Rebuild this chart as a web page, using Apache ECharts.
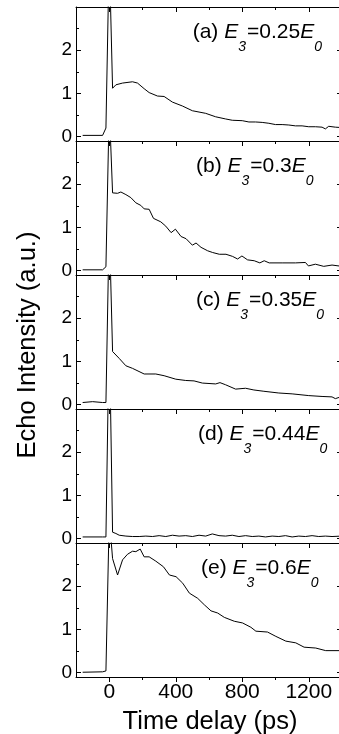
<!DOCTYPE html>
<html>
<head>
<meta charset="utf-8">
<script src="https://cdn.jsdelivr.net/npm/echarts@6/dist/echarts.min.js"></script>
<style>
html,body{margin:0;padding:0;background:#fff;}
#chart{width:339px;height:734px;}
</style>
</head>
<body>
<div id="chart"></div>
<script>
// ---- data ----
const panelLetters = ['(a)', '(b)', '(c)', '(d)', '(e)'];
const e3Values = ['0.25', '0.3', '0.35', '0.44', '0.6'];

const xTickMajor = [0, 400, 800, 1200];
const xTickMinor = [200, 600, 1000];
const yTickMajor = [0, 1, 2];
const yTickMinor = [0.5, 1.5, 2.5];

const tA = [-160, -40, -20, 0, 20, 40, 80, 140, 170, 210, 240, 290, 330, 380, 440, 500, 540, 580, 640, 700, 740, 800, 840, 880, 920, 960, 1000, 1040, 1080, 1120, 1160, 1200, 1240, 1280, 1300, 1320, 1360, 1400];
const vA = [0.03, 0.03, 0.2, 4.25, 1.12, 1.2, 1.24, 1.27, 1.24, 1.11, 1.02, 0.94, 0.93, 0.80, 0.71, 0.60, 0.57, 0.54, 0.46, 0.41, 0.38, 0.37, 0.34, 0.34, 0.33, 0.31, 0.28, 0.28, 0.27, 0.25, 0.25, 0.23, 0.23, 0.22, 0.18, 0.24, 0.22, 0.21];

const tB = [-160, -40, -20, 0, 20, 50, 70, 100, 130, 160, 190, 210, 240, 266, 310, 340, 372, 398, 432, 462, 500, 522, 552, 592, 622, 662, 702, 742, 772, 798, 832, 872, 906, 932, 962, 1040, 1120, 1180, 1198, 1240, 1290, 1340, 1400];
const vB = [0.02, 0.02, 0.09, 3.8, 1.80, 1.79, 1.82, 1.76, 1.69, 1.57, 1.51, 1.43, 1.42, 1.21, 1.13, 1.03, 0.88, 0.96, 0.79, 0.74, 0.59, 0.64, 0.54, 0.46, 0.42, 0.38, 0.38, 0.33, 0.27, 0.34, 0.25, 0.23, 0.18, 0.23, 0.18, 0.18, 0.18, 0.19, 0.11, 0.15, 0.10, 0.13, 0.10];

const tC = [-160, -100, -40, -20, 0, 20, 60, 100, 140, 210, 280, 330, 400, 460, 510, 560, 640, 666, 700, 760, 820, 870, 930, 1020, 1100, 1200, 1280, 1340, 1360, 1400];
const vC = [0.05, 0.07, 0.05, 0.05, 4.2, 1.23, 1.07, 0.90, 0.84, 0.71, 0.71, 0.67, 0.59, 0.56, 0.55, 0.50, 0.48, 0.51, 0.46, 0.36, 0.38, 0.34, 0.31, 0.27, 0.25, 0.21, 0.19, 0.18, 0.14, 0.19];

const tD = [-160, -40, -20, 0, 20, 40, 60, 100, 140, 180, 220, 260, 300, 340, 380, 420, 460, 500, 540, 580, 620, 660, 700, 740, 780, 820, 860, 900, 940, 980, 1020, 1060, 1100, 1140, 1180, 1220, 1260, 1300, 1340, 1400];
const vD = [0.04, 0.04, 0.04, 4.9, 0.15, 0.12, 0.08, 0.06, 0.05, 0.05, 0.06, 0.05, 0.07, 0.05, 0.08, 0.06, 0.07, 0.05, 0.08, 0.06, 0.11, 0.07, 0.06, 0.08, 0.05, 0.07, 0.05, 0.06, 0.04, 0.06, 0.05, 0.07, 0.04, 0.06, 0.05, 0.07, 0.05, 0.06, 0.05, 0.06];

const tE = [-160, -40, -20, 0, 20, 50, 80, 110, 140, 160, 186, 210, 240, 280, 326, 362, 402, 442, 482, 532, 572, 612, 652, 692, 752, 802, 852, 882, 952, 1002, 1062, 1122, 1172, 1242, 1302, 1400];
const vE = [0.01, 0.02, 0.04, 3.6, 2.64, 2.26, 2.61, 2.74, 2.81, 2.80, 2.86, 2.68, 2.68, 2.58, 2.45, 2.26, 2.22, 2.07, 1.84, 1.72, 1.57, 1.43, 1.38, 1.28, 1.19, 1.15, 1.05, 0.96, 0.94, 0.84, 0.73, 0.69, 0.59, 0.57, 0.51, 0.51];

const panelTimes = [tA, tB, tC, tD, tE];
const panelValues = [vA, vB, vC, vD, vE];

// ---- layout ----
const FONT = "'Liberation Sans', Arial, sans-serif";
const GRID_LEFT = 76, GRID_TOP = 7, GRID_W = 266, GRID_H = 134;
const annLeft = [192.7, 196, 196, 198, 201];
const black = '#000';
const plain = v => String(v);

const grids = [], xAxes = [], yAxes = [], series = [], graphics = [];

panelTimes.forEach((times, i) => {
  const top = GRID_TOP + GRID_H * i;
  grids.push({left: GRID_LEFT, top: top, width: GRID_W, height: GRID_H, containLabel: false, outerBoundsMode: 'none'});
  const last = i === panelTimes.length - 1;

  const xMain = xAxes.length;
  xAxes.push({
    gridIndex: i, type: 'value', min: -200, max: 1400, position: 'bottom',
    axisLine: {show: true, onZero: false, lineStyle: {color: black, width: 1}},
    axisTick: {show: true, inside: false, length: 5, customValues: xTickMajor, lineStyle: {color: black, width: 1}},
    axisLabel: {show: last, customValues: xTickMajor, formatter: plain, color: black, fontSize: 21, fontFamily: FONT, margin: 5},
    splitLine: {show: false}
  });
  xAxes.push({
    gridIndex: i, type: 'value', min: -200, max: 1400, position: 'bottom',
    axisLine: {show: false, onZero: false},
    axisTick: {show: true, inside: false, length: 3, customValues: xTickMinor, lineStyle: {color: black, width: 1}},
    axisLabel: {show: false}, splitLine: {show: false}
  });
  if (i === 0) {
    xAxes.push({
      gridIndex: i, type: 'value', min: -200, max: 1400, position: 'top',
      axisLine: {show: true, onZero: false, lineStyle: {color: black, width: 1}},
      axisTick: {show: true, inside: true, length: 5, customValues: xTickMajor, lineStyle: {color: black, width: 1}},
      axisLabel: {show: false}, splitLine: {show: false}
    });
    xAxes.push({
      gridIndex: i, type: 'value', min: -200, max: 1400, position: 'top',
      axisLine: {show: false, onZero: false},
      axisTick: {show: true, inside: true, length: 3, customValues: xTickMinor, lineStyle: {color: black, width: 1}},
      axisLabel: {show: false}, splitLine: {show: false}
    });
  }

  const yMain = yAxes.length;
  yAxes.push({
    gridIndex: i, type: 'value', min: -0.1, max: 3, position: 'left',
    axisLine: {show: true, onZero: false, lineStyle: {color: black, width: 1}},
    axisTick: {show: true, inside: true, length: 5, customValues: yTickMajor, lineStyle: {color: black, width: 1}},
    axisLabel: {show: true, customValues: yTickMajor, formatter: plain, color: black, fontSize: 19, fontFamily: FONT, margin: 4},
    splitLine: {show: false}
  });
  yAxes.push({
    gridIndex: i, type: 'value', min: -0.1, max: 3, position: 'left',
    axisLine: {show: false, onZero: false},
    axisTick: {show: true, inside: true, length: 3, customValues: yTickMinor, lineStyle: {color: black, width: 1}},
    axisLabel: {show: false}, splitLine: {show: false}
  });
  yAxes.push({
    gridIndex: i, type: 'value', min: -0.1, max: 3, position: 'right',
    axisLine: {show: true, onZero: false, lineStyle: {color: black, width: 1}},
    axisTick: {show: true, inside: true, length: 5, customValues: yTickMajor, lineStyle: {color: black, width: 1}},
    axisLabel: {show: false}, splitLine: {show: false}
  });

  series.push({
    type: 'line', xAxisIndex: xMain, yAxisIndex: yMain,
    data: times.map((t, k) => [t, panelValues[i][k]]),
    showSymbol: false, symbol: 'none', clip: true, animation: false,
    lineStyle: {color: black, width: 1}
  });

  graphics.push({
    type: 'text', left: annLeft[i], top: top + 15, z: 100,
    style: {
      text: '{n|' + panelLetters[i] + ' }{i|E}{s|3}{n|=' + e3Values[i] + '}{i|E}{s|0}',
      fill: black,
      rich: {
        n: {fontSize: 21, fontFamily: FONT, verticalAlign: 'top', fill: black},
        i: {fontSize: 21, fontFamily: FONT, fontStyle: 'italic', verticalAlign: 'top', fill: black},
        s: {fontSize: 14, fontFamily: FONT, fontStyle: 'italic', verticalAlign: 'top', padding: [18, 1, 0, 0], fill: black}
      }
    }
  });
});

graphics.push({
  type: 'text', x: 28, y: 345, rotation: Math.PI / 2, z: 100,
  style: {text: 'Echo Intensity (a.u.)', fontSize: 25.5, fontFamily: FONT, fill: black, align: 'center', verticalAlign: 'middle'}
});
graphics.push({
  type: 'text', x: 210, y: 722, z: 100,
  style: {text: 'Time delay (ps)', fontSize: 25.5, fontFamily: FONT, fill: black, align: 'center', verticalAlign: 'middle'}
});

const chart = echarts.init(document.getElementById('chart'), null, {renderer: 'canvas'});
chart.setOption({
  animation: false,
  backgroundColor: '#fff',
  grid: grids,
  xAxis: xAxes,
  yAxis: yAxes,
  series: series,
  graphic: graphics
});
</script>
</body>
</html>
